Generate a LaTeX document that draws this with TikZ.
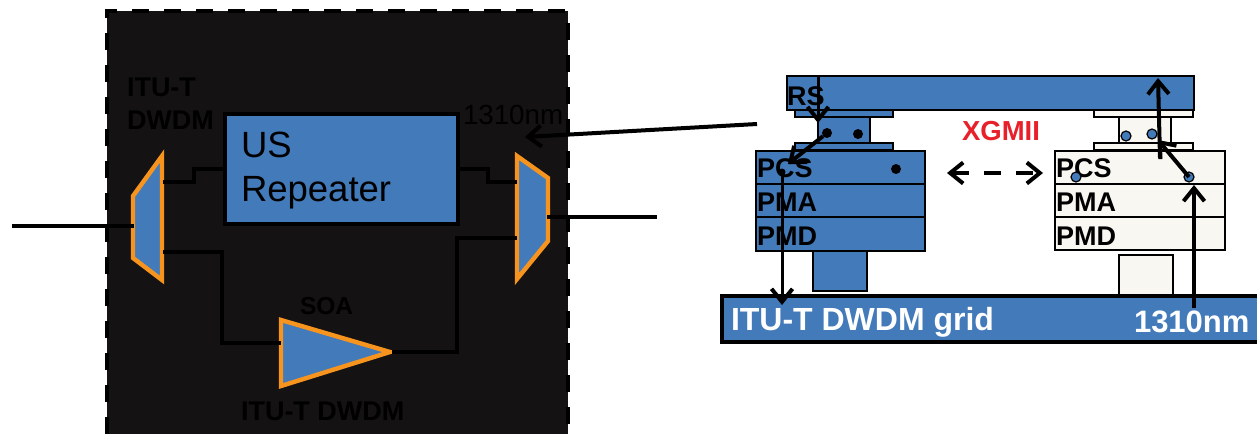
\documentclass[tikz,border=0pt]{standalone}
\usepackage{fontspec}
\setmainfont{Liberation Sans}
\usetikzlibrary{arrows.meta}
\definecolor{panelblack}{HTML}{141213}
\definecolor{boxblue}{HTML}{437ABA}
\definecolor{muxorange}{HTML}{F7941E}
\definecolor{paleblock}{HTML}{F8F7F2}
\definecolor{xred}{HTML}{E8202A}
\tikzset{
  every node/.style={inner sep=0pt,outer sep=0pt},
  wire/.style={draw=black,line width=4pt,line join=miter},
  mux/.style={draw=muxorange,fill=boxblue,line width=4.4pt,line join=miter},
  bluebox/.style={draw=black,fill=boxblue,line width=1.5pt,anchor=north west},
  palebox/.style={draw=black,fill=paleblock,line width=1.5pt,anchor=north west},
  barb/.tip={Straight Barb[length=13pt,width=21pt,line width=4pt]},
  flow/.style={draw=black,line width=4pt,-barb},
  blackdot/.style={circle,fill=black,minimum size=10pt},
  bluedot/.style={circle,fill=boxblue,draw=black,line width=1.2pt,minimum size=10pt},
  lbl/.style={anchor=base west,font=\fontsize{27}{28}\selectfont\bfseries,text=black},
  lblthin/.style={anchor=base west,font=\fontsize{27.7}{28}\selectfont,text=black},
  whitelbl/.style={anchor=base west,text=white,font=\fontsize{32}{34}\selectfont\bfseries},
}
\begin{document}
\begin{tikzpicture}[x=1pt,y=-1pt]
\useasboundingbox (0,0) rectangle (1257,434);
% panel
\fill[panelblack] (107,11) rectangle (568,434);
\draw[black,line width=3.4pt,dash pattern=on 17pt off 15pt] (107,434) -- (107,11) -- (568,11) -- (568,434);
% left part nodes
\node[draw=black,fill=boxblue,line width=4pt,anchor=north west,minimum width=233pt,minimum height=110pt] (rep) at (225,114) {};
\node[anchor=base west,font=\fontsize{36.5}{38}\selectfont,text=black] (us) at (241,157) {US};
\node[anchor=base west,font=\fontsize{36.5}{38}\selectfont,text=black] (repeater) at (241,201) {Repeater};
\draw[mux] (162,156) -- (133,196) -- (133,258) -- (162,280) -- cycle;
\draw[mux] (517,156) -- (548,178) -- (548,241) -- (517,279) -- cycle;
\draw[mux] (281,320) -- (390,352) -- (281,386) -- cycle;
\coordinate (lin) at (12,226);
\coordinate (lmuxw) at (134,226);
\coordinate (lmuxt) at (163,182);
\coordinate (lmuxb) at (163,252);
\coordinate (rept) at (225,169);
\coordinate (repr) at (458,169);
\coordinate (rmuxt) at (517,182);
\coordinate (rmuxb) at (517,238);
\coordinate (rmuxe) at (547,217);
\coordinate (rout) at (657,217);
\coordinate (soain) at (281,343);
\coordinate (soaout) at (392,352);
\draw[wire] (lin) -- (lmuxw);
\draw[wire] (lmuxt) -- (194,182) -- (194,169) -- (rept);
\draw[wire] (repr) -- (488,169) -- (488,182) -- (rmuxt);
\draw[wire] (lmuxb) -- (222,252) -- (222,343) -- (soain);
\draw[wire] (soaout) -- (457,352) -- (457,238) -- (rmuxb);
\draw[wire] (rmuxe) -- (rout);
\node[lbl] (l1) at (127,96) {ITU-T};
\node[lbl] (l2) at (127,129) {DWDM};
\node[lblthin] (l3) at (463,124) {1310nm};
\node[lbl,font=\fontsize{24.5}{26}\selectfont\bfseries] (l4) at (300,314) {SOA};
\node[lbl] (l5) at (241,420) {ITU-T DWDM};
% right: RS bar and left stack
\node[bluebox,minimum width=407pt,minimum height=34pt] (rs) at (787,76) {};
\node[bluebox,minimum width=98pt,minimum height=7pt] (lp1) at (795,110) {};
\node[bluebox,minimum width=52pt,minimum height=26pt] (lneck) at (818,117) {};
\node[bluebox,minimum width=98pt,minimum height=7pt] (lp2) at (795,143) {};
\node[bluebox,minimum width=169pt,minimum height=33pt] (lpcs) at (756,151) {};
\node[bluebox,minimum width=169pt,minimum height=33pt] (lpma) at (756,184) {};
\node[bluebox,minimum width=169pt,minimum height=34pt] (lpmd) at (756,217) {};
\node[bluebox,minimum width=54pt,minimum height=40pt] (lstem) at (813,251) {};
% right stack
\node[palebox,minimum width=99pt,minimum height=7pt] (rp1) at (1094,110) {};
\node[palebox,minimum width=52pt,minimum height=26pt] (rneck) at (1119,117) {};
\node[palebox,minimum width=99pt,minimum height=7pt] (rp2) at (1094,143) {};
\node[palebox,minimum width=170pt,minimum height=33pt] (rpcs) at (1055,151) {};
\node[palebox,minimum width=170pt,minimum height=33pt] (rpma) at (1055,184) {};
\node[palebox,minimum width=170pt,minimum height=33pt] (rpmd) at (1055,217) {};
\node[palebox,minimum width=54pt,minimum height=40pt] (rstem) at (1119,255) {};
% grid
\fill[boxblue] (722,296) rectangle (1257,342);
\draw[black,line width=4pt] (1257,296) -- (722,296) -- (722,342) -- (1257,342);
\coordinate (gridl) at (782,305);
\coordinate (gridr) at (1194,308);
\node[whitelbl] (g1) at (731,330) {ITU-T DWDM grid};
\node[whitelbl,font=\fontsize{31}{33}\selectfont\bfseries] (g2) at (1134,332) {1310nm};
% labels
\node[lbl] (t1) at (787,105) {RS};
\node[lbl] (t2) at (757,177) {PCS};
\node[lbl] (t3) at (757,211) {PMA};
\node[lbl] (t4) at (757,245) {PMD};
\node[lbl] (t5) at (1056,177) {PCS};
\node[lbl] (t6) at (1056,211) {PMA};
\node[lbl] (t7) at (1056,245) {PMD};
\node[lbl,text=xred,font=\fontsize{27.5}{29}\selectfont\bfseries] (xg) at (962,140) {XGMII};
% dots
\node[blackdot] (d1) at (827,133) {};
\node[blackdot] (d2) at (858,134) {};
\node[blackdot] (d3) at (896,169) {};
\node[blackdot,minimum size=7pt] (d4) at (782,172) {};
\node[bluedot] (d5) at (1126,136) {};
\node[bluedot] (d6) at (1152,134) {};
\node[bluedot] (d7) at (1076,177) {};
\node[bluedot] (d8) at (1189,177) {};
% arrows
\coordinate (rstop) at (818,77);
\coordinate (rsin) at (818,123);
\coordinate (lpcstip) at (788,164);
\coordinate (rspt) at (1158,140);
\coordinate (upfoot) at (1160,158);
\coordinate (uptip) at (1158,78);
\coordinate (d8tip) at (1194,185);
\coordinate (farr) at (757,124);
\coordinate (narr) at (525,137);
\coordinate (dashl) at (947,173);
\coordinate (dashr) at (1043,173);
\draw[flow,line width=3pt] (rstop) -- (rsin);
\draw[flow] (d1) -- (lpcstip);
\draw[flow,line width=3pt] (d4.center) -- (gridl);
\draw[flow] (gridr) -- (d8tip);
\draw[flow] (d8.center) -- (rspt);
\draw[flow] (upfoot) -- (uptip);
\draw[flow] (farr) -- (narr);
\draw[draw=black,line width=4pt,dash pattern=on 17pt off 15pt,barb-barb] (dashl) -- (dashr);
\end{tikzpicture}
\end{document}
